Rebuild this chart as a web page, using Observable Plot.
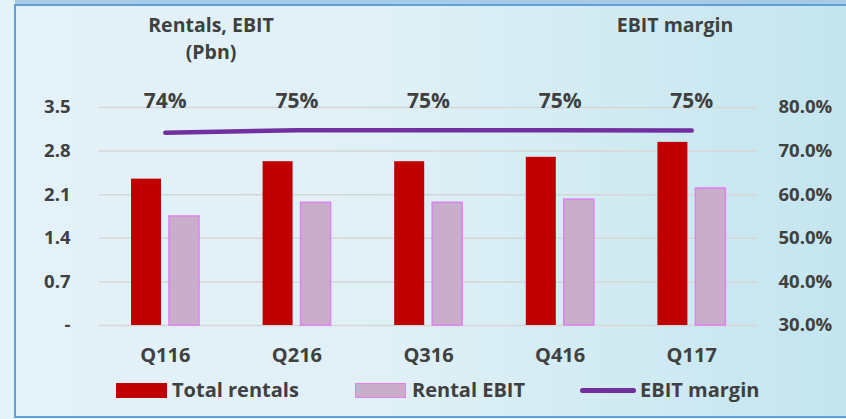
<!DOCTYPE html>
<html><head><meta charset="utf-8">
<script src="https://cdn.jsdelivr.net/npm/d3@7"></script>
<script src="https://cdn.jsdelivr.net/npm/@observablehq/plot@0.6"></script>
<style>
html,body{margin:0;padding:0;}
body{width:846px;height:419px;overflow:hidden;background:#e4f3f8;font-family:"Open Sans",sans-serif;position:relative;color:#404040;}
#topband{position:absolute;left:15px;top:0;width:831px;height:5px;background:#a7cbe5;}
#frame{position:absolute;left:14px;top:4px;width:840px;height:414px;box-sizing:border-box;border:2.5px solid #62a0dc;background:linear-gradient(to right,#e4f2f8 0%,#dff0f6 45%,#c3e5ef 100%);}
#chart{position:absolute;left:0;top:0;}
.t{position:absolute;font-weight:700;font-size:19.5px;text-align:center;width:240px;line-height:24px;white-space:nowrap;}
.lg{position:absolute;font-weight:700;font-size:20px;line-height:24px;white-space:nowrap;top:378px;}
.sw{position:absolute;}
</style></head>
<body>
<div id="topband"></div>
<div id="frame"></div>
<div id="chart"></div>
<div class="t" style="left:91px;top:13px;">Rentals, EBIT</div>
<div class="t" style="left:91px;top:40px;">(Pbn)</div>
<div class="t" style="left:555px;top:13px;">EBIT margin</div>
<div class="sw" style="left:116px;top:383px;width:51px;height:15px;background:#c00000;"></div>
<div class="lg" style="left:172px;">Total rentals</div>
<div class="sw" style="left:355px;top:383px;width:51px;height:15px;background:#c9aecb;border:1.5px solid #e07ff0;box-sizing:border-box;"></div>
<div class="lg" style="left:412px;">Rental EBIT</div>
<div class="sw" style="left:580px;top:387.5px;width:56px;height:5px;background:#7030a0;border-radius:3px;"></div>
<div class="lg" style="left:640px;">EBIT margin</div>
<script>
const quarters = ["Q116", "Q216", "Q316", "Q416", "Q117"];
const totalRentals = [2.35, 2.63, 2.63, 2.70, 2.94];
const rentalEbit = [1.75, 1.97, 1.97, 2.02, 2.20];
const ebitMargin = [74.2, 74.8, 74.8, 74.8, 74.7];
const marginLabels = ["74%", "75%", "75%", "75%", "75%"];
const leftTicks = [0, 0.7, 1.4, 2.1, 2.8, 3.5];
const leftTickLabels = ["-", "0.7", "1.4", "2.1", "2.8", "3.5"];
const rightTickLabels = ["30.0%", "40.0%", "50.0%", "60.0%", "70.0%", "80.0%"];
const marginMin = 30, marginMax = 80, leftMax = 3.5;

const toLeft = m => (m - marginMin) / (marginMax - marginMin) * leftMax;
const rows = quarters.map((q, i) => ({q, total: totalRentals[i], ebit: rentalEbit[i], margin: toLeft(ebitMargin[i]), label: marginLabels[i]}));

const txt = "#404040";
const chart = Plot.plot({
  width: 846, height: 419,
  marginLeft: 99, marginRight: 89, marginTop: 107, marginBottom: 94,
  style: {background: "transparent", fontFamily: "Open Sans, sans-serif", color: txt, overflow: "visible"},
  x: {domain: quarters, padding: 0, round: false, label: null},
  y: {domain: [0, leftMax], label: null},
  marks: [
    Plot.ruleY(leftTicks, {stroke: "#d6d6d6", strokeWidth: 1.5}),
    Plot.barY(rows, {x: "q", y: "total", fill: "#c00000", insetLeft: 32, insetRight: 69.6}),
    Plot.barY(rows, {x: "q", y: "ebit", fill: "#c9aecb", stroke: "#e07ff0", strokeWidth: 1.5, insetLeft: 70, insetRight: 31.6}),
    Plot.lineY(rows, {x: "q", y: "margin", stroke: "#7030a0", strokeWidth: 4.5, strokeLinecap: "round"}),
    Plot.text(rows, {x: "q", y: () => leftMax, text: "label", dy: -6, fontSize: 21, fontWeight: "bold", fill: txt}),
    Plot.axisX({tickSize: 0, tickPadding: 22, fontSize: 20, fontWeight: "bold", fill: txt, label: null}),
    Plot.axisY({ticks: leftTicks, tickFormat: d => leftTickLabels[leftTicks.indexOf(d)], anchor: "left", tickSize: 0, tickPadding: 29, fontSize: 18.5, fontWeight: "bold", fill: txt, label: null}),
    Plot.axisY({ticks: leftTicks, tickFormat: d => rightTickLabels[leftTicks.indexOf(d)], anchor: "right", tickSize: 0, tickPadding: 21, fontSize: 18.5, fontWeight: "bold", fill: txt, label: null})
  ]
});
document.getElementById("chart").appendChild(chart);
</script>
</body></html>
